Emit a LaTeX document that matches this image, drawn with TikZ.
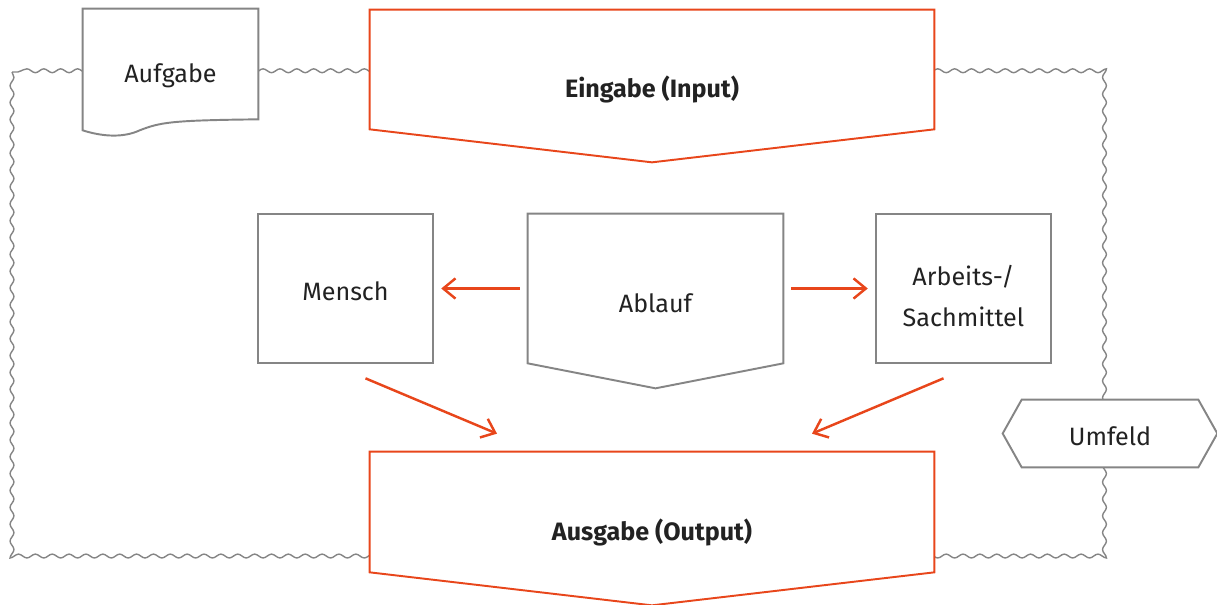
\documentclass[tikz,border=0pt]{standalone}
\usepackage{fontspec}
\setmainfont{Fira Sans}
\usepackage{xcolor}
\definecolor{sysOrange}{HTML}{E8461B}
\definecolor{sysGray}{HTML}{858585}
\definecolor{sysText}{HTML}{222222}
\usepackage{tikz}
\usetikzlibrary{arrows.meta,decorations.pathmorphing,calc}
\pgfdeclarelayer{border}
\pgfdeclarelayer{shapes}
\pgfsetlayers{border,shapes,main}
\tikzset{every node/.style={text=sysText, font=\fontsize{14.3}{17}\selectfont, inner sep=0pt}}
\tikzset{part/.style={rectangle, minimum width=3.5cm, minimum height=2.98cm, align=center}}
\tikzset{grayline/.style={draw=sysGray, line width=1.1pt, fill=white, line join=miter}}
\tikzset{orangeline/.style={draw=sysOrange, line width=1.1pt, fill=white, line join=miter}}
\tikzset{flow/.style={draw=sysOrange, line width=1.4pt, -{Straight Barb[length=7pt, width=11.5pt, line width=1.4pt]}, shorten <=4.5pt, shorten >=4.5pt}}
\tikzset{wavy/.style={draw=sysGray, line width=0.8pt, decorate, decoration={snake, amplitude=1.1pt, segment length=9.6pt}}}
\newcommand{\bigtext}[1]{\fontsize{14.3}{17}\selectfont\bfseries #1}

\begin{document}
\begin{tikzpicture}[x=0.02cm, y=-0.02cm]
\useasboundingbox (0,0) rectangle (1217,605);
%--------------------
% the system frame
%--------------------
\coordinate (frametl) at (12,72);
\coordinate (framebr) at (1108,557);
\begin{pgfonlayer}{border}
\draw[wavy] (frametl) rectangle (framebr);
\end{pgfonlayer}

%--------------------
% task and input
%--------------------
\node[rectangle, minimum width=3.5cm, minimum height=2.42cm](aufgabe) at (170.5,69.5){};
\node(aufgabetext) at (170.5,76){Aufgabe};
\node[rectangle, minimum width=11.28cm, minimum height=3.04cm](eingabe) at (652,86){};
\node(eingabetext) at (652,89){\bigtext{Eingabe (Input)}};

%--------------------
% the work system
%--------------------
\node[part](mensch) at (345.5,288.5){};
\node(menschtext) at (345.5,291){Mensch};
\node[rectangle, minimum width=5.1cm, minimum height=3.48cm](ablauf) at (655.5,301){};
\node(ablauftext) at (655.5,303.5){Ablauf};
\node[part](arbeit) at (963.5,288.5){};
\node[align=center](arbeittext) at (963.5,296){Arbeits-/\\[6pt]Sachmittel};
\node[rectangle, minimum width=4.28cm, minimum height=1.34cm](umfeld) at (1110,433.5){};
\node(umfeldtext) at (1110,436){Umfeld};

%--------------------
% output
%--------------------
\node[rectangle, minimum width=11.28cm, minimum height=3.06cm](ausgabe) at (652,528.5){};
\node(ausgabetext) at (652,532){\bigtext{Ausgabe (Output)}};

\begin{pgfonlayer}{shapes}
\draw[grayline] (aufgabe.north west) -- (aufgabe.north east) -- ($(aufgabe.south east)+(0,-11)$)
  .. controls ($(aufgabe.south east)+(-88,-10)$) and ($(aufgabe.south east)+(-98,-8)$) .. ($(aufgabe.south west)+(57,0)$)
  .. controls ($(aufgabe.south west)+(42,7)$) and ($(aufgabe.south west)+(22,7)$) .. (aufgabe.south west) -- cycle;
\draw[orangeline] (eingabe.north west) -- (eingabe.north east) -- ($(eingabe.south east)+(0,-33)$) -- (eingabe.south) -- ($(eingabe.south west)+(0,-33)$) -- cycle;
\draw[grayline] (mensch.north west) rectangle (mensch.south east);
\draw[grayline] (arbeit.north west) rectangle (arbeit.south east);
\draw[grayline] (ablauf.north west) -- (ablauf.north east) -- ($(ablauf.south east)+(0,-25)$) -- (ablauf.south) -- ($(ablauf.south west)+(0,-25)$) -- cycle;
\draw[grayline] (umfeld.west) -- ($(umfeld.north west)+(19,0)$) -- ($(umfeld.north east)+(-19,0)$) -- (umfeld.east) -- ($(umfeld.south east)+(-19,0)$) -- ($(umfeld.south west)+(19,0)$) -- cycle;
\draw[orangeline] (ausgabe.north west) -- (ausgabe.north east) -- ($(ausgabe.south east)+(0,-33)$) -- (ausgabe.south) -- ($(ausgabe.south west)+(0,-33)$) -- cycle;
\end{pgfonlayer}

%--------------------
% flows
%--------------------
\draw[flow] (ablauf.west |- mensch) -- (mensch.east);
\draw[flow] (ablauf.east |- arbeit) -- (arbeit.west);
\draw[flow, shorten <=0pt, shorten >=0pt] ($(mensch.south)+(20,15)$) -- ($(ausgabe.north)+(-155,-18)$);
\draw[flow, shorten <=0pt, shorten >=0pt] ($(arbeit.south)+(-20,15)$) -- ($(ausgabe.north)+(160,-18)$);
\end{tikzpicture}
\end{document}
